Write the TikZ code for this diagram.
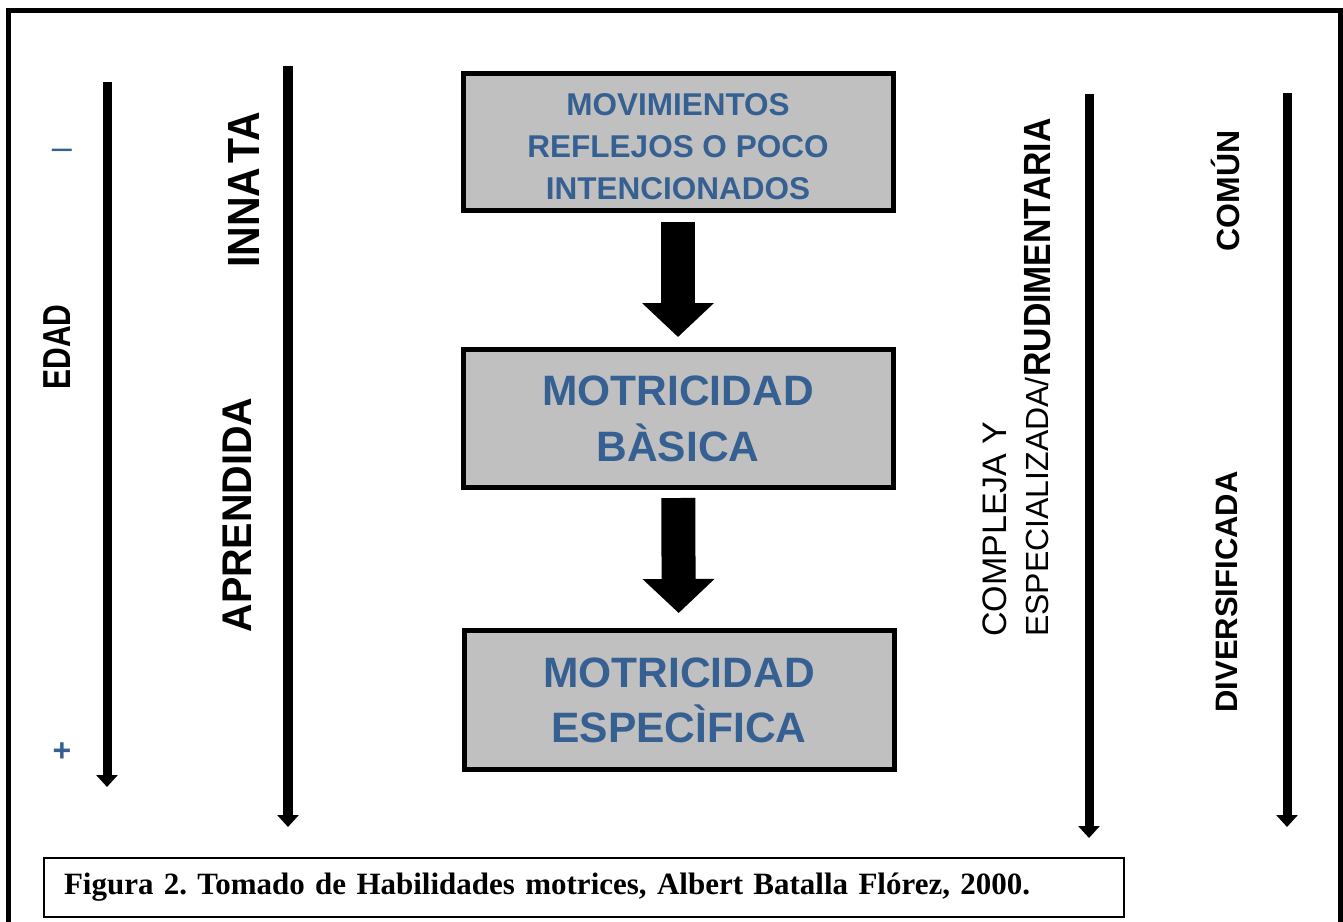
\documentclass[tikz,border=0pt]{standalone}
\usepackage{fontspec}
\setmainfont{Liberation Sans}
\newfontfamily\captionfont{Liberation Serif}
\usetikzlibrary{arrows.meta}
\definecolor{stageblue}{RGB}{55,96,146}
\definecolor{stagegray}{RGB}{192,192,192}
\frenchspacing

\begin{document}
\begin{tikzpicture}[x=1pt, y=-1pt,
    stage/.style = {rectangle, draw, line width=5pt, fill=stagegray, text=stageblue, align=center,
                    minimum width=430pt, minimum height=138pt, inner sep=0pt},
    axis/.style = {line width=9pt, -{Triangle[width=21pt, length=12pt]}},
    flow/.style = {line width=34pt, -{Triangle[width=70pt, length=34pt]}},
    sidetext/.style = {rotate=90, inner sep=0pt}]
  \useasboundingbox (0, 0) rectangle (1343, 921);

  % Frame.
  \draw [line width=5pt] (8, 940) |- (1340, 10) -- (1340, 940);

  % Stages.
  \node at (678, 142) [stage, name=Reflejos, minimum height=137pt,
        font=\bfseries\fontsize{31.5pt}{42pt}\selectfont] {\rule{0pt}{31pt}MOVIMIENTOS\\REFLEJOS O POCO\\INTENCIONADOS};
  \node at (678, 418.5) [stage, name=Basica,
        font=\bfseries\fontsize{42.5pt}{56pt}\selectfont] {MOTRICIDAD\\BÀSICA};
  \node at (679, 700) [stage, name=Especifica, minimum height=139pt,
        font=\bfseries\fontsize{42.5pt}{55pt}\selectfont] {MOTRICIDAD\\ESPECÌFICA};

  % Stage transitions.
  \draw [flow, shorten <=9pt, shorten >=10pt] (Reflejos)
             to (Basica);
  \draw [flow, shorten <=8pt, shorten >=15pt] (Basica)
             to (Especifica);

  % Left axes.
  \coordinate (edadtop) at (107, 82);
  \coordinate (edadend) at (107, 787);
  \coordinate (origentop) at (288, 66);
  \coordinate (origenend) at (288, 827);
  \draw [axis] (edadtop) to (edadend);
  \draw [axis, line width=10pt] (origentop) to (origenend);

  \node at (57, 347) [sidetext, name=Edad, font=\bfseries\fontsize{30pt}{36pt}\selectfont] {\scalebox{1}[1.3]{EDAD}};
  \node at (62, 154) [text=stageblue, name=Menos, font=\fontsize{36pt}{36pt}\selectfont] {–};
  \node at (62, 752) [text=stageblue, name=Mas, font=\bfseries\fontsize{32pt}{32pt}\selectfont] {+};
  \node at (244, 190) [sidetext, name=Innata, font=\bfseries\fontsize{41pt}{48pt}\selectfont] {\scalebox{1}[1.1]{INNA\hspace{4pt}TA}};
  \node at (237, 515) [sidetext, name=Aprendida, font=\bfseries\fontsize{39.5pt}{48pt}\selectfont] {\scalebox{1}[1.05]{APRENDIDA}};

  % Right axes.
  \coordinate (tipotop) at (1089, 94);
  \coordinate (tipoend) at (1089, 838);
  \coordinate (usotop) at (1287, 93);
  \coordinate (usoend) at (1287, 827);
  \draw [axis] (tipotop) to (tipoend);
  \draw [axis] (usotop) to (usoend);

  \node at (995, 637) [sidetext, anchor=west, name=Compleja, font=\fontsize{34pt}{40pt}\selectfont] {COMPLEJA Y};
  \node at (1037, 637) [sidetext, anchor=west, name=Especializada, font=\fontsize{32pt}{40pt}\selectfont] {ESPECIALIZADA/};
  \node at (1038, 377) [sidetext, anchor=west, name=Rudimentaria, font=\bfseries\fontsize{33.8pt}{40pt}\selectfont] {\scalebox{1}[1.12]{RUDIMENTARIA}};
  \node at (1225, 191) [sidetext, name=Comun, font=\bfseries\fontsize{32pt}{40pt}\selectfont] {COMÚN};
  \node at (1227, 592) [sidetext, name=Diversificada, font=\bfseries\fontsize{31pt}{40pt}\selectfont] {DIVERSIFICADA};

  % Caption.
  \node at (584, 887.5) [draw, line width=2pt, minimum height=59pt, text width=1040pt, inner xsep=20pt,
        align=left, name=Caption, font=\captionfont\bfseries\fontsize{31pt}{34pt}\selectfont]
        {Figura 2. Tomado de Habilidades motrices, Albert Batalla Flórez, 2000.};
\end{tikzpicture}
\end{document}
